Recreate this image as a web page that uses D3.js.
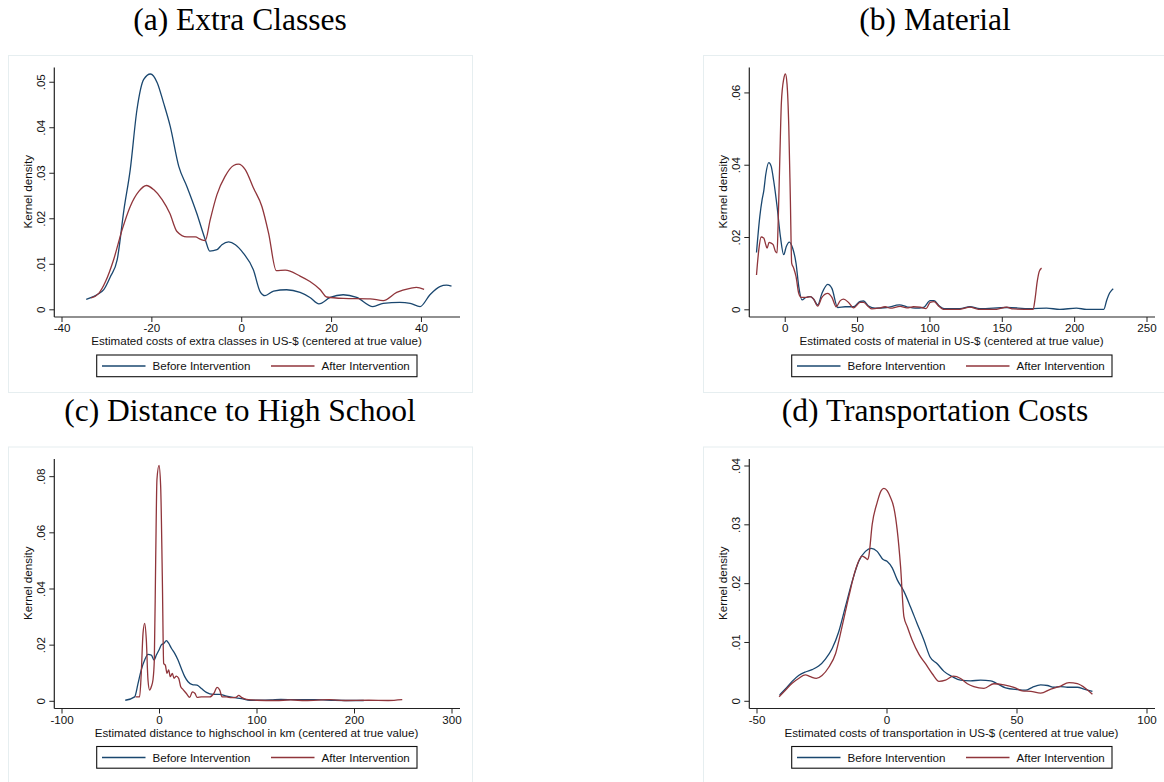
<!DOCTYPE html>
<html>
<head>
<meta charset="utf-8">
<script src="https://cdn.jsdelivr.net/npm/d3@7"></script>
<style>
  body { margin: 0; background: #fff; }
  svg { display: block; }
</style>
</head>
<body>
<div id="chart"></div>
<script>
// ---- data ----
const seriesNames = ["Before Intervention", "After Intervention"];

const extraXTicks = [-40, -20, 0, 20, 40];
const extraYTicks = [0, 0.01, 0.02, 0.03, 0.04, 0.05];
const extraBefore = [[-34.5,.0022],[-32.1,.0032],[-30.6,.0043],[-29.1,.0072],[-27.6,.0109],[-26.1,.0219],[-24.7,.0307],[-23.2,.0439],[-21.7,.0505],[-20.2,.0517],[-18.7,.0498],[-17.3,.0454],[-15.8,.0402],[-13.9,.0314],[-12.1,.0270],[-9.9,.0211],[-8.0,.0153],[-7.0,.0128],[-5.4,.0131],[-4.3,.0142],[-2.8,.0148],[-1.3,.0142],[0.5,.0123],[2.7,.0087],[4.2,.0039],[5.3,.0030],[7.2,.0040],[10.1,.0043],[13.1,.0037],[15.3,.0026],[17.3,.0012],[19.8,.0026],[22.7,.0032],[25.7,.0026],[29.3,.0006],[31.6,.0013],[35.3,.0015],[37.6,.0013],[39.8,.0006],[42.0,.0032],[44.2,.0050],[45.7,.0053],[46.8,.0051]];
const extraAfter = [[-33.4,.0025],[-31.7,.0035],[-30.2,.0061],[-28.4,.0109],[-26.5,.0175],[-24.7,.0226],[-22.8,.0259],[-21.1,.0272],[-19.5,.0263],[-17.6,.0241],[-15.9,.0211],[-14.3,.0171],[-12.1,.0159],[-10.2,.0159],[-9.1,.0154],[-8.0,.0151],[-6.9,.0197],[-5.4,.0252],[-3.6,.0292],[-1.7,.0316],[-0.6,.0319],[0.9,.0307],[2.7,.0267],[4.6,.0226],[6.1,.0167],[7.8,.0085],[9.8,.0086],[13.1,.0073],[15.3,.0061],[17.6,.0043],[19.0,.0027],[22.7,.0024],[28.7,.0023],[31.6,.0019],[34.6,.0037],[37.6,.0046],[39.0,.0048],[40.7,.0044]];

const materialXTicks = [0, 50, 100, 150, 200, 250];
const materialYTicks = [0, 0.02, 0.04, 0.06];
const materialBefore = [[-19.5,.0157],[-17.2,.0257],[-15.6,.0304],[-14.5,.0327],[-13.1,.0373],[-11.0,.0406],[-9.4,.0396],[-7.6,.0355],[-5.3,.0285],[-3.0,.0202],[-0.7,.0151],[1.1,.0174],[3.2,.0186],[5.5,.0169],[7.8,.0128],[9.7,.0063],[12.0,.0026],[14.3,.0032],[17.7,.0035],[20.0,.0028],[22.8,.0012],[25.7,.0044],[29.7,.0069],[32.6,.0058],[36.6,.0005],[41.8,.0007],[47.6,.0007],[52.2,.0022],[54.5,.0023],[57.9,.0009],[62.5,.0003],[70.6,.0005],[79.3,.0012],[84.4,.0007],[90.1,.0003],[95.9,.0005],[100.5,.0024],[103.2,.0024],[106.9,.0009],[110.1,.0002],[121.1,.0002],[128.0,.0007],[134.9,.0002],[153.3,.0005],[169.4,.0002],[180.9,.0003],[190.1,0],[201.6,.0003],[208.5,0],[220.5,0],[222.5,.0025],[224.5,.0045],[227.0,.0057]];
const materialAfter = [[-19.5,.0095],[-17.9,.0165],[-16.3,.0200],[-14.5,.0197],[-13.1,.0179],[-12.2,.0169],[-10.8,.0185],[-9.4,.0183],[-8.0,.0179],[-6.4,.0160],[-5.3,.0156],[-4.6,.0230],[-3.4,.0415],[-2.3,.0572],[-0.7,.0637],[0.5,.0651],[1.6,.0623],[2.8,.0507],[3.9,.0304],[4.8,.0128],[6.2,.0114],[7.8,.0091],[9.7,.0044],[11.3,.0033],[14.3,.0033],[17.7,.0035],[20.0,.0028],[22.8,.0009],[25.7,.0033],[29.7,.0044],[32.6,.0033],[35.6,.0007],[38.4,.0024],[40.7,.0028],[44.1,.0019],[47.6,.0004],[52.2,.0019],[54.5,.0019],[57.9,.0007],[60.2,.0001],[64.8,.0003],[69.4,.0007],[72.9,.0003],[79.8,.0008],[84.4,.0004],[89.0,.0007],[93.6,.0006],[97.7,.0002],[100.5,.0019],[103.2,.0021],[106.9,.0007],[109.7,0],[121.1,0],[128.0,.0006],[133.8,0],[146.4,0],[153.3,.0006],[157.9,.0001],[171.7,0],[172.9,.0026],[174.5,.0077],[175.9,.0105],[177.5,.0114]];

const distanceXTicks = [-100, 0, 100, 200, 300];
const distanceYTicks = [0, 0.02, 0.04, 0.06, 0.08];
const distanceBefore = [[-34.6,.0002],[-25.0,.0014],[-21.6,.0060],[-18.2,.0110],[-14.7,.0145],[-11.3,.0165],[-7.9,.0163],[-5.1,.0145],[-2.7,.0163],[0,.0181],[2.4,.0199],[5.1,.0205],[7.5,.0214],[9.9,.0205],[12.7,.0187],[16.1,.0169],[19.5,.0145],[22.9,.0115],[26.4,.0086],[29.8,.0068],[34.2,.0058],[39.0,.0056],[43.5,.0044],[48.6,.0030],[55.5,.0023],[62.3,.0023],[69.2,.0017],[76.0,.0012],[84.6,.0008],[93.2,.0002],[103.4,.0002],[115,.0003],[125,.0005],[140,.0004],[160,.0004],[180,.0002],[200,.0001],[210,.0001]];
const distanceAfter = [[-24.0,.0014],[-19.9,.0014],[-18.2,.0098],[-16.4,.0240],[-14.7,.0276],[-13.0,.0217],[-11.3,.0074],[-9.6,.0038],[-7.9,.0050],[-6.2,.0074],[-4.8,.0145],[-3.4,.0502],[-2.1,.0788],[0,.0838],[1.7,.0764],[3.4,.0443],[4.8,.0133],[6.5,.0127],[8.2,.0098],[9.9,.0110],[11.6,.0086],[13.7,.0098],[15.4,.0080],[17.8,.0088],[20.2,.0080],[22.3,.0050],[24.7,.0040],[28.1,.0026],[31.5,.0012],[34.2,.0032],[37.0,.0026],[39.0,.0012],[43.5,.0014],[52.1,.0014],[56.2,.0026],[59.6,.0048],[62.3,.0038],[64.7,.0014],[69.2,.0014],[74.3,.0011],[78.8,.0012],[81.8,.0019],[84.6,.0012],[89.7,.0005],[100,.0002],[120,.0001],[135,.0003],[150,.0001],[175,.0004],[190,.0001],[215,.0002],[235,.0001],[249.5,.0004]];

const transportXTicks = [-50, 0, 50, 100];
const transportYTicks = [0, 0.01, 0.02, 0.03, 0.04];
const transportBefore = [[-41.1,.0010],[-38.9,.0020],[-36.3,.0033],[-33.8,.0043],[-31.2,.0049],[-28.6,.0053],[-26.1,.0059],[-23.5,.0071],[-20.9,.0089],[-18.4,.0117],[-15.8,.0160],[-13.2,.0203],[-10.7,.0237],[-8.1,.0254],[-5.9,.0259],[-3.6,.0254],[-1.3,.0240],[0.3,.0237],[2.2,.0226],[4.1,.0206],[6.7,.0186],[9.2,.0160],[11.8,.0131],[14.4,.0103],[16.7,.0075],[19.5,.0063],[22.1,.0050],[25.3,.0041],[28.5,.0035],[32.3,.0034],[36.2,.0035],[40.1,.0034],[42.6,.0029],[45.8,.0022],[50.3,.0019],[53.5,.0018],[56.1,.0023],[59.3,.0027],[61.9,.0026],[64.4,.0023],[67.0,.0024],[69.6,.0023],[73.4,.0023],[76.0,.0020],[79.2,.0016]];
const transportAfter = [[-41.3,.0007],[-38.9,.0018],[-36.3,.0030],[-33.8,.0038],[-31.2,.0044],[-29.3,.0041],[-27.0,.0038],[-24.8,.0043],[-22.2,.0057],[-19.6,.0080],[-17.1,.0126],[-14.5,.0177],[-11.9,.0223],[-9.4,.0246],[-8.1,.0243],[-7.2,.0240],[-6.8,.0246],[-5.5,.0300],[-3.6,.0337],[-2.1,.0357],[-1.0,.0361],[0.3,.0357],[1.5,.0346],[2.8,.0329],[4.1,.0291],[5.4,.0229],[6.7,.0143],[8.0,.0126],[9.9,.0103],[12.5,.0079],[15.0,.0063],[17.6,.0046],[20.2,.0033],[22.7,.0035],[25.7,.0042],[28.5,.0038],[31.1,.0029],[33.6,.0024],[37.5,.0021],[41.3,.0029],[45.2,.0027],[49.0,.0023],[52.2,.0017],[55.5,.0016],[59.3,.0013],[63.2,.0020],[66.4,.0024],[70.2,.0031],[73.4,.0029],[76.6,.0021],[79.2,.0011]];

// ---- layout ----
const W = 1164, H = 782;
const colors = ["#1a476f", "#90353b"];
const frameW = 464, frameH = 337;
// plot region / axes inside each frame
const inner = { left: 53.5, right: 443.5, top: 19, bottom: 254.3, axisX: 46.3, axisY: 262, axisEnd: 452, axisTop: 12.5 };
const sans = "'Liberation Sans', Arial, sans-serif";
const serif = "'Liberation Serif', 'Times New Roman', serif";

const panels = [
  { title: "(a) Extra Classes", xLabel: "Estimated costs of extra classes in US-$ (centered at true value)",
    xTicks: extraXTicks, yTicks: extraYTicks, series: [extraBefore, extraAfter], x0: 8, y0: 55 },
  { title: "(b) Material", xLabel: "Estimated costs of material in US-$ (centered at true value)",
    xTicks: materialXTicks, yTicks: materialYTicks, series: [materialBefore, materialAfter], x0: 703, y0: 55 },
  { title: "(c) Distance to High School", xLabel: "Estimated distance to highschool in km (centered at true value)",
    xTicks: distanceXTicks, yTicks: distanceYTicks, series: [distanceBefore, distanceAfter], x0: 8, y0: 446.5 },
  { title: "(d) Transportation Costs", xLabel: "Estimated costs of transportation in US-$ (centered at true value)",
    xTicks: transportXTicks, yTicks: transportYTicks, series: [transportBefore, transportAfter], x0: 703, y0: 446.5 }
];

const svg = d3.select("#chart").append("svg")
  .attr("width", W).attr("height", H)
  .attr("viewBox", `0 0 ${W} ${H}`);

const yFmt = d => d === 0 ? "0" : d3.format(".2f")(d).replace(/^0/, "");

function drawPanel(p) {
  // title above the frame
  svg.append("text")
    .attr("x", p.x0 + frameW / 2).attr("y", p.y0 - 25.5)
    .attr("text-anchor", "middle")
    .style("font-family", serif).style("font-size", "31.5px").style("fill", "#000")
    .text(p.title);

  const g = svg.append("g").attr("transform", `translate(${p.x0},${p.y0})`);

  g.append("rect")
    .attr("x", 0.5).attr("y", 0.5).attr("width", frameW).attr("height", frameH)
    .attr("fill", "#fff").attr("stroke", "#e6eef0");

  const all = p.series.flat();
  const xDom = [Math.min(p.xTicks[0], d3.min(all, d => d[0])), Math.max(p.xTicks[p.xTicks.length - 1], d3.max(all, d => d[0]))];
  const yDom = [0, Math.max(p.yTicks[p.yTicks.length - 1], d3.max(all, d => d[1]))];
  const x = d3.scaleLinear().domain(xDom).range([inner.left, inner.right]);
  const y = d3.scaleLinear().domain(yDom).range([inner.bottom, inner.top]);

  // axes (Stata style: detached lines)
  const xAxis = g.append("g").attr("transform", `translate(0,${inner.axisY})`)
    .call(d3.axisBottom(x).tickValues(p.xTicks).tickSize(5).tickPadding(2).tickFormat(d => String(d)));
  xAxis.select(".domain").remove();
  xAxis.append("line").attr("x1", inner.axisX).attr("x2", inner.axisEnd).attr("stroke", "#222").attr("stroke-width", 1.2);

  const yAxis = g.append("g").attr("transform", `translate(${inner.axisX},0)`)
    .call(d3.axisLeft(y).tickValues(p.yTicks).tickSize(5).tickFormat(yFmt));
  yAxis.select(".domain").remove();
  yAxis.append("line").attr("y1", inner.axisTop).attr("y2", inner.axisY).attr("stroke", "#222").attr("stroke-width", 1.2);

  g.selectAll(".tick line").attr("stroke", "#222").attr("stroke-width", 1);
  g.selectAll(".tick text").style("font-family", sans).style("font-size", "11.6px").attr("fill", "#111");
  yAxis.selectAll(".tick text")
    .attr("x", null).attr("dy", null)
    .attr("text-anchor", "middle")
    .attr("transform", "translate(-9,0) rotate(-90)");

  // axis titles
  g.append("text")
    .attr("x", (inner.left + inner.right) / 2).attr("y", 290)
    .attr("text-anchor", "middle")
    .style("font-family", sans).style("font-size", "11.6px").style("fill", "#111")
    .text(p.xLabel);
  g.append("text")
    .attr("transform", `translate(24,${(inner.top + inner.bottom) / 2}) rotate(-90)`)
    .attr("text-anchor", "middle")
    .style("font-family", sans).style("font-size", "11.6px").style("fill", "#111")
    .text("Kernel density");

  // density curves
  const line = d3.line().x(d => x(d[0])).y(d => y(d[1])).curve(d3.curveMonotoneX);
  p.series.forEach((s, i) => {
    g.append("path").datum(s)
      .attr("fill", "none").attr("stroke", colors[i]).attr("stroke-width", 1.3)
      .attr("stroke-linejoin", "round")
      .attr("d", line);
  });

  // legend
  const lg = g.append("g").attr("transform", "translate(88.7,300)");
  lg.append("rect").attr("x", 0).attr("y", 0).attr("width", 320.3).attr("height", 21.7)
    .attr("fill", "#fff").attr("stroke", "#111").attr("stroke-width", 1.1);
  const itemX = [5.3, 174.3];
  seriesNames.forEach((name, i) => {
    lg.append("line").attr("x1", itemX[i]).attr("x2", itemX[i] + 43.5).attr("y1", 11).attr("y2", 11)
      .attr("stroke", colors[i]).attr("stroke-width", 1.3);
    lg.append("text").attr("x", itemX[i] + 50.5).attr("y", 15.2)
      .style("font-family", sans).style("font-size", "11.6px").style("fill", "#111")
      .text(name);
  });
}

panels.forEach(drawPanel);
</script>
</body>
</html>
